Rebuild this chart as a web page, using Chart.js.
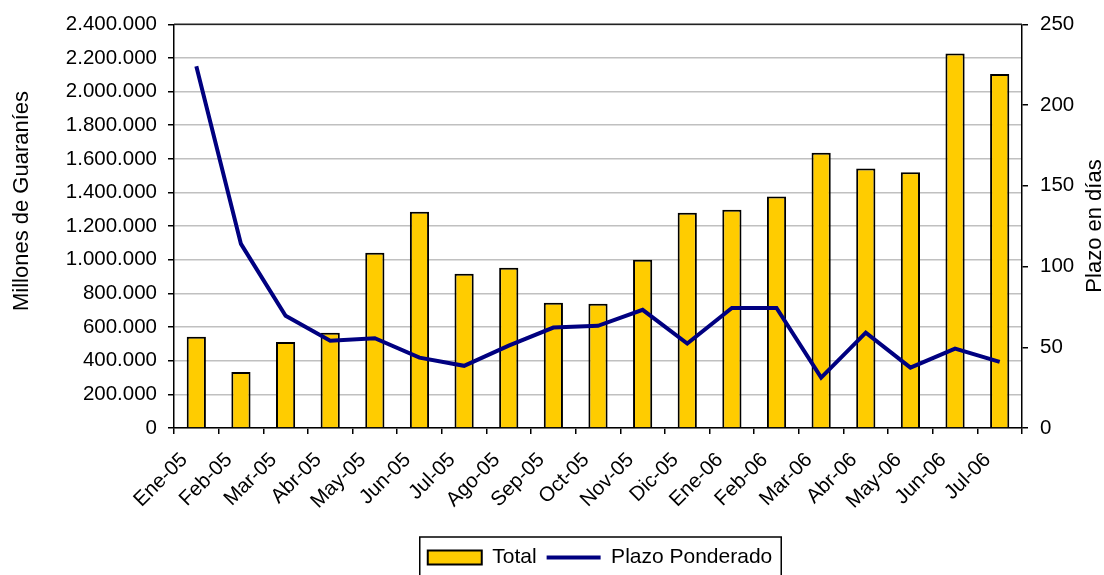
<!DOCTYPE html>
<html>
<head>
<meta charset="utf-8">
<script src="https://cdn.jsdelivr.net/npm/chart.js@4/dist/chart.umd.min.js"></script>
<style>
  html, body { margin: 0; padding: 0; background: #fff; }
  #wrap { width: 1104px; height: 575px; }
</style>
</head>
<body>
<div id="wrap"><canvas id="plazoChart" width="1104" height="575"></canvas></div>
<script>
const meses = ["Ene-05", "Feb-05", "Mar-05", "Abr-05", "May-05", "Jun-05", "Jul-05", "Ago-05", "Sep-05",
  "Oct-05", "Nov-05", "Dic-05", "Ene-06", "Feb-06", "Mar-06", "Abr-06", "May-06", "Jun-06", "Jul-06"];
const total = [542000, 333000, 512000, 566000, 1042000, 1286000, 917000, 953000, 744000,
  738000, 1000000, 1280000, 1298000, 1377000, 1636000, 1542000, 1520000, 2227000, 2104000];
const plazoPonderado = [224, 114, 69.5, 54, 55.6, 43.6, 38.5, 51, 62.2,
  63.3, 73.2, 52.3, 74.3, 74.3, 31.2, 59.1, 37.4, 49.2, 40.9];
const tituloIzq = "Millones de Guaraníes";
const tituloDer = "Plazo en días";

const family = "'Liberation Sans', Arial, sans-serif";
const tickFont = { family: family, size: 20.5 };
const bigFont = { family: family, size: 21 };

function puntos(v) {
  return String(v).replace(/\B(?=(\d{3})+(?!\d))/g, ".");
}

// both axis titles read bottom to top (Chart.js turns the right one the other way),
// legend sits a bit right of the middle and gets a frame round it
const marcos = {
  id: "marcos",
  afterLayout(chart) {
    const lg = chart.legend;
    lg.left += 48;
    lg.right += 48;
    lg.top += 3;
    lg.bottom += 3;
  },
  afterDraw(chart) {
    const ctx = chart.ctx;
    const a = chart.chartArea;
    ctx.save();
    ctx.strokeStyle = "#222";
    ctx.lineWidth = 1.5;
    ctx.beginPath();
    ctx.moveTo(a.left, a.top);
    ctx.lineTo(a.right, a.top);
    ctx.stroke();

    ctx.fillStyle = "#000";
    ctx.font = "22px " + family;
    ctx.textAlign = "center";
    ctx.textBaseline = "middle";
    ctx.save();
    ctx.translate(22, 201);
    ctx.rotate(-Math.PI / 2);
    ctx.fillText(tituloIzq, 0, 0);
    ctx.restore();
    ctx.save();
    ctx.translate(1095, 226);
    ctx.rotate(-Math.PI / 2);
    ctx.fillText(tituloDer, 0, 0);
    ctx.restore();

    const boxes = chart.legend.legendHitBoxes;
    if (boxes && boxes.length) {
      ctx.strokeStyle = "#000";
      const l = Math.min(...boxes.map(b => b.left)) - 8;
      const r = Math.max(...boxes.map(b => b.left + b.width)) + 9;
      const t = Math.min(...boxes.map(b => b.top)) - 10;
      ctx.strokeRect(l, t, r - l, 60);
    }
    ctx.restore();
  }
};

const ctx = document.getElementById("plazoChart").getContext("2d");
const plazoChart = new Chart(ctx, {
  data: {
    labels: meses,
    datasets: [
      {
        type: "bar",
        label: "Total",
        data: total,
        backgroundColor: "#FFCC00",
        borderColor: "#000",
        borderWidth: 2,
        categoryPercentage: 1,
        barPercentage: 0.43,
        yAxisID: "y",
        order: 2,
        pointStyle: "rect",
      },
      {
        type: "line",
        label: "Plazo Ponderado",
        data: plazoPonderado,
        borderColor: "#000080",
        backgroundColor: "#000080",
        borderWidth: 4,
        pointRadius: 0,
        tension: 0,
        yAxisID: "y1",
        order: 1,
        pointStyle: "line",
      },
    ],
  },
  options: {
    responsive: false,
    animation: false,
    layout: { padding: { top: 24, left: 0, right: 0, bottom: 0 } },
    plugins: {
      tooltip: { enabled: false },
      legend: {
        position: "bottom",
        labels: {
          font: bigFont,
          color: "#000",
          usePointStyle: true,
          pointStyleWidth: 54,
          boxHeight: 14,
          padding: 10,
          sort: (a, b) => a.datasetIndex - b.datasetIndex,
        },
      },
    },
    scales: {
      x: {
        offset: true,
        grid: { offset: true, drawOnChartArea: false, tickLength: 6, tickColor: "#000", lineWidth: 1.5 },
        border: { color: "#000", width: 1.5 },
        ticks: { font: tickFont, color: "#000", maxRotation: 45, minRotation: 45, autoSkip: false, padding: 14, labelOffset: -12 },
        afterFit(scale) { scale.height = 106; },
      },
      y: {
        position: "left",
        min: 0,
        max: 2400000,
        grid: {
          color: "#c0c0c0",
          lineWidth: 1.5,
          tickLength: 6,
          tickColor: "#000",
        },
        border: { color: "#000", width: 1.5 },
        ticks: { stepSize: 200000, font: tickFont, color: "#000", padding: 11, callback: v => puntos(v) },
        afterFit(scale) { scale.width = 174; },
      },
      y1: {
        position: "right",
        min: 0,
        max: 250,
        grid: { drawOnChartArea: false, tickLength: 6, tickColor: "#000", lineWidth: 1.5 },
        border: { color: "#000", width: 1.5 },
        ticks: { stepSize: 50, font: tickFont, color: "#000", padding: 12 },
        afterFit(scale) { scale.width = 82; },
      },
    },
  },
  plugins: [marcos],
});
</script>
</body>
</html>
